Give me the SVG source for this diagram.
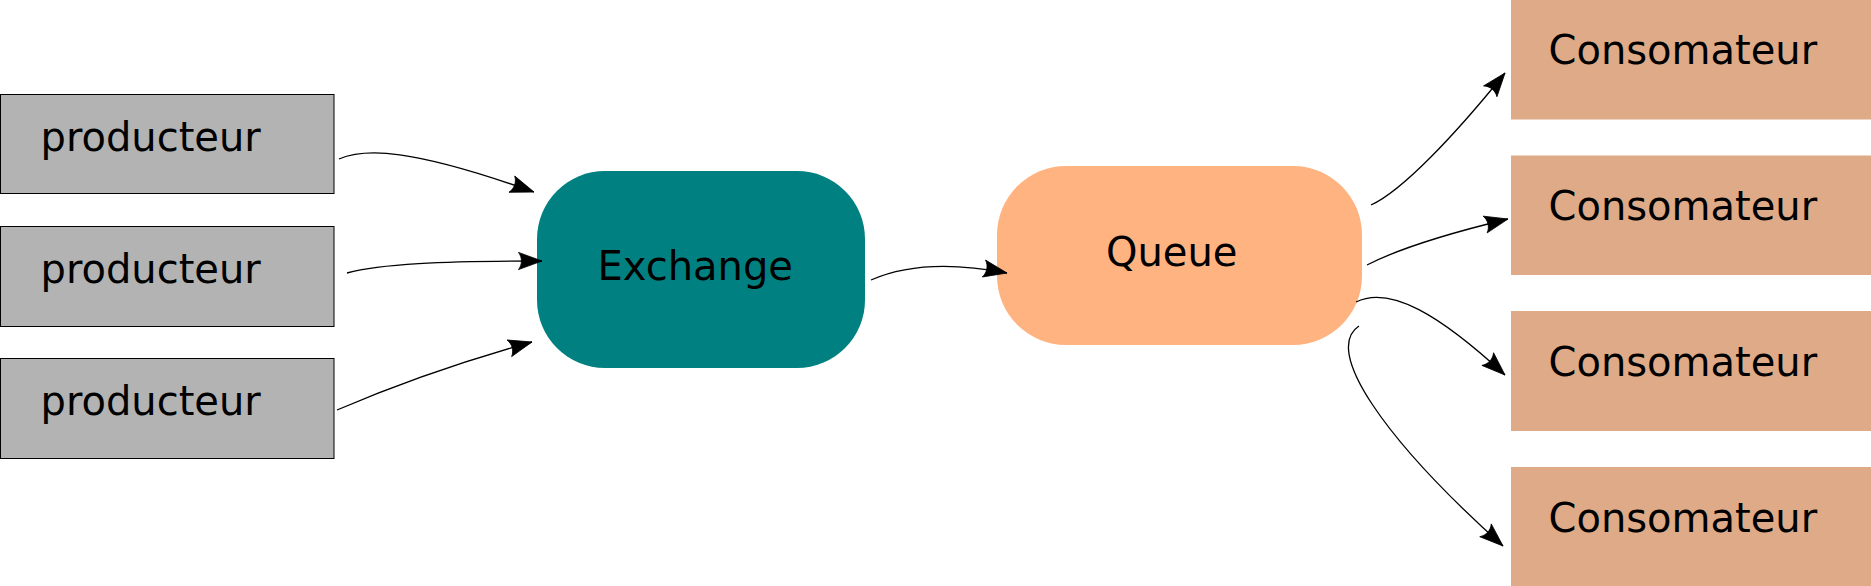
<svg xmlns="http://www.w3.org/2000/svg" width="1871" height="586" viewBox="0 0 1871 586">
<style>
  .lbl { font-family: "DejaVu Sans", "Liberation Sans", sans-serif; font-size: 40px; fill: #000; }
  .prod { fill: #b3b3b3; stroke: #000; stroke-width: 1; }
  .cons { fill: #deaa87; }
  .conn { fill: none; stroke: #000; stroke-width: 1.3; marker-end: url(#arr); }
</style>
<defs>
  <marker id="arr" markerUnits="userSpaceOnUse" orient="auto" refX="0" refY="0" markerWidth="30" markerHeight="30" overflow="visible">
    <path d="M0,0 L-23.5,-8.6 C-19.6,-3.5 -19.6,3.5 -23.5,8.6 Z" fill="#000" stroke="#000" stroke-width="0.8" stroke-linejoin="round"/>
  </marker>
</defs>
<rect width="1871" height="586" fill="#fff"/>

<g id="producteur1">
  <rect class="prod" x="0.5" y="94.5" width="333.5" height="99"/>
  <text class="lbl" x="40.5" y="151">producteur</text>
</g>
<g id="producteur2">
  <rect class="prod" x="0.5" y="226.5" width="333.5" height="100"/>
  <text class="lbl" x="40.5" y="283">producteur</text>
</g>
<g id="producteur3">
  <rect class="prod" x="0.5" y="358.5" width="333.5" height="100"/>
  <text class="lbl" x="40.5" y="415">producteur</text>
</g>

<g id="exchange">
  <rect x="537" y="171" width="328" height="197" rx="68" ry="68" fill="#008080"/>
  <text class="lbl" x="597.5" y="280">Exchange</text>
</g>

<g id="queue">
  <rect x="997" y="166" width="365" height="179" rx="69" ry="69" fill="#ffb380"/>
  <text class="lbl" x="1106" y="266">Queue</text>
</g>

<g id="consomateur1">
  <rect class="cons" x="1511" y="0" width="360" height="119.5"/>
  <text class="lbl" x="1548.5" y="64">Consomateur</text>
</g>
<g id="consomateur2">
  <rect class="cons" x="1511" y="155.5" width="360" height="119.5"/>
  <text class="lbl" x="1548.5" y="220">Consomateur</text>
</g>
<g id="consomateur3">
  <rect class="cons" x="1511" y="311" width="360" height="120"/>
  <text class="lbl" x="1548.5" y="376">Consomateur</text>
</g>
<g id="consomateur4">
  <rect class="cons" x="1511" y="467" width="360" height="119"/>
  <text class="lbl" x="1548.5" y="532">Consomateur</text>
</g>

<g id="connectors">
  <path class="conn" d="M339,159 C365,148 410,148 534,192"/>
  <path class="conn" d="M347,273 C380,264 440,261 542,261"/>
  <path class="conn" d="M337,410 C400,383 460,362 532,342"/>
  <path class="conn" d="M871,280 C905,265 950,262 1007,273"/>
  <path class="conn" d="M1371,205 C1402,191 1455,135 1505,73"/>
  <path class="conn" d="M1367,265 C1400,248 1450,233 1508,219"/>
  <path class="conn" d="M1356,302 C1390,285 1440,315 1505,375"/>
  <path class="conn" d="M1359,326 C1322,350 1385,440 1503,546"/>
</g>
</svg>
